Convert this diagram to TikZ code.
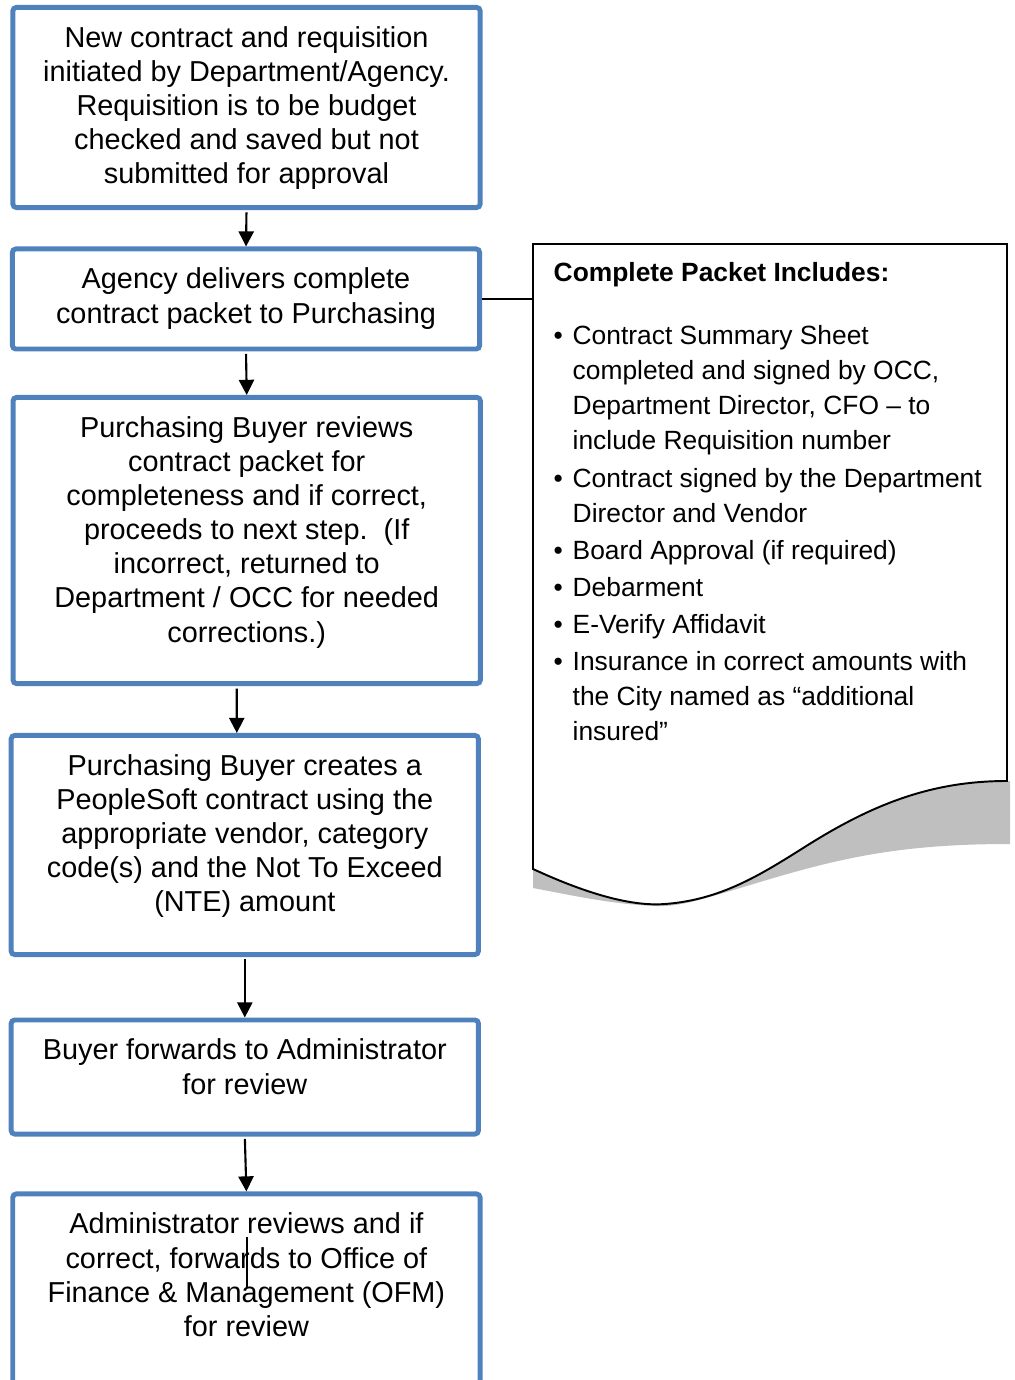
\documentclass[tikz,border=0pt]{standalone}
\usepackage{fontspec}
\setmainfont{Liberation Sans}
\usetikzlibrary{arrows.meta}

\definecolor{boxblue}{RGB}{79,129,189}
\definecolor{shadegray}{RGB}{191,191,191}

\newcommand{\flowtext}[2]{\parbox[c][#1][t]{4.5cm}{\centering\rule{0pt}{0.40cm}#2}}
\newcommand{\pbul}{\makebox[0.19cm][l]{\textbullet}}
\newcommand{\pind}{\hspace*{0.19cm}}

\tikzset{
    flowbox/.style = {draw = boxblue, line width = 1.4pt, rounded corners = 1pt, minimum width = 4.67cm, inner sep = 0pt, font = \fontsize{8.2}{9.7}\selectfont},
    flowarrow/.style = {-{Triangle[length = 4.3pt, width = 4.3pt]}, line width = 0.6pt, shorten <= 0.7pt},
    packettext/.style = {align = left, inner sep = 0pt, font = \fontsize{7.5}{9.98}\selectfont}
}

\begin{document}
\begin{tikzpicture}[x = 0.01cm, y = -0.01cm]
        \useasboundingbox (0,0) rectangle (1014,1380);
        \clip (0,0) rectangle (1014,1380);

        % packet sheet and its shadow
        \fill[shadegray] (533,869) .. controls (600,900) and (640,906) .. (665,904)
            .. controls (720,900) and (760,875) .. (800,850)
            .. controls (870,805) and (930,781) .. (1008,781)
            -- (1010,781) -- (1010,844)
            .. controls (900,844) and (840,858) .. (760,882)
            .. controls (700,900) and (680,907) .. (655,906)
            .. controls (610,904) and (570,895) .. (533,888) -- cycle;
        \draw[line width = 0.55pt, fill = white] (533,869) -- (533,244) -- (1007,244) -- (1007,781)
            .. controls (930,781) and (870,805) .. (800,850)
            .. controls (760,875) and (720,900) .. (665,904)
            .. controls (640,906) and (600,900) .. (533,869) -- cycle;

        \node[packettext, anchor = north west] (packet) at (553,262) {\textbf{Complete Packet Includes:}\\[7.9pt]
            \pbul Contract Summary Sheet\\
            \pind completed and signed by OCC,\\
            \pind Department Director, CFO -- to\\
            \pind include Requisition number\\[0.57pt]
            \pbul Contract signed by the Department\\
            \pind Director and Vendor\\[0.57pt]
            \pbul Board Approval (if required)\\[0.57pt]
            \pbul Debarment\\[0.57pt]
            \pbul E-Verify Affidavit\\[0.57pt]
            \pbul Insurance in correct amounts with\\
            \pind the City named as “additional\\
            \pind insured”};

        % steps
        \node[flowbox] (new) at (246.5,107.5) {\flowtext{2cm}{New contract and requisition\\ initiated by Department/Agency.\\ Requisition is to be budget\\ checked and saved but not\\ submitted for approval}};
        \node[flowbox] (deliver) at (246,299) {\flowtext{1cm}{Agency delivers complete\\ contract packet to Purchasing}};
        \node[flowbox] (review) at (246.7,540.5) {\flowtext{2.86cm}{Purchasing Buyer reviews\\ contract packet for\\ completeness and if correct,\\ proceeds to next step.\ \ (If\\ incorrect, returned to\\ Department / OCC for needed\\ corrections.)}};
        \node[flowbox] (create) at (244.8,845) {\flowtext{2.19cm}{Purchasing Buyer creates a\\ PeopleSoft contract using the\\ appropriate vendor, category\\ code(s) and the Not To Exceed\\ (NTE) amount}};
        \node[flowbox] (forward) at (244.8,1077) {\flowtext{1.14cm}{Buyer forwards to Administrator\\ for review}};
        \node[flowbox] (admin) at (246.4,1319) {\flowtext{2.5cm}{Administrator reviews and if\\ correct, forwards to Office of\\ Finance \& Management (OFM)\\ for review}};

        \draw[flowarrow] (new.south) -- (deliver.north);
        \draw[flowarrow] (deliver.south) -- (review.north);
        \draw[flowarrow] ([xshift = -0.1cm]review.south) -- ([xshift = -0.08cm]create.north);
        \draw[flowarrow] (create.south) -- (forward.north);
        \draw[flowarrow] (forward.south) -- (admin.north);

        \coordinate (packetedge) at (533,299);
        \draw[line width = 0.5pt] (deliver.east) -- (packetedge);

        \draw[line width = 0.5pt] (247,1237) -- (247,1287);
    \end{tikzpicture}
\end{document}
